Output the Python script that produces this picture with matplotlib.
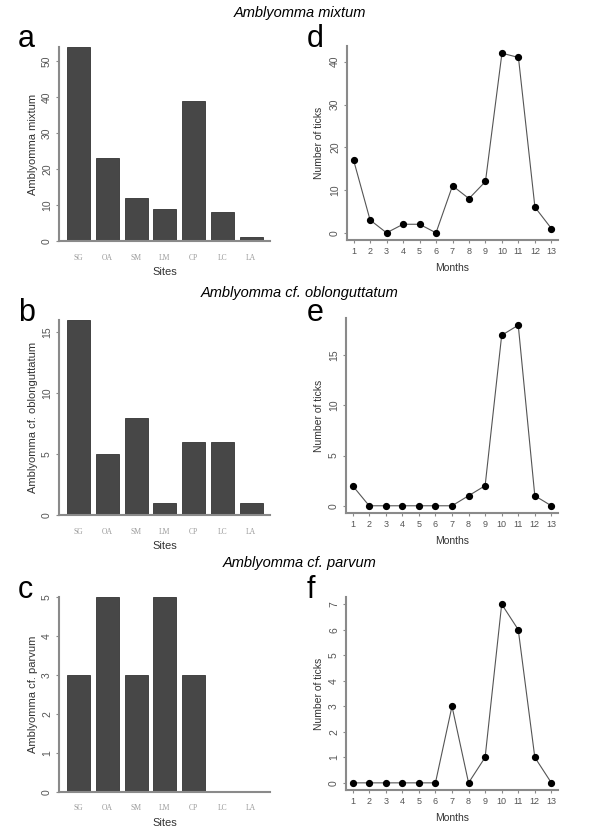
import matplotlib
matplotlib.use("Agg")
import matplotlib.pyplot as plt

plt.rcParams['font.family'] = ['Liberation Sans', 'DejaVu Sans']

sites = ["SG", "OA", "SM", "LM", "CP", "LC", "LA"]
months = list(range(1, 14))

mixtum_sites = [54, 23, 12, 9, 39, 8, 1]
oblong_sites = [16, 5, 8, 1, 6, 6, 1]
parvum_sites = [3, 5, 3, 5, 3, 0, 0]

mixtum_months = [17, 3, 0, 2, 2, 0, 11, 8, 12, 42, 41, 6, 1]
oblong_months = [2, 0, 0, 0, 0, 0, 0, 1, 2, 17, 18, 1, 0]
parvum_months = [0, 0, 0, 0, 0, 0, 3, 0, 1, 7, 6, 1, 0]

titles = ["Amblyomma mixtum", "Amblyomma cf. oblonguttatum", "Amblyomma cf. parvum"]
bar_ylabels = ["Amblyomma mixtum", "Amblyomma cf. oblonguttatum", "Amblyomma cf. parvum"]
bar_yticks = [[0, 10, 20, 30, 40, 50], [0, 5, 10, 15], [0, 1, 2, 3, 4, 5]]
line_yticks = [[0, 10, 20, 30, 40], [0, 5, 10, 15], [0, 1, 2, 3, 4, 5, 6, 7]]
letters_left = ["a", "b", "c"]
letters_right = ["d", "e", "f"]

W, H = 600, 836
fig = plt.figure(figsize=(6, 8.36), dpi=100)

def box(l, r, t, b):
    return [l / W, 1 - b / H, (r - l) / W, (b - t) / H]

bar_boxes = [(59, 270, 47, 241), (59, 270, 320, 515), (59, 270, 597, 792)]
line_boxes = [(347, 558, 46, 240), (346, 558, 318, 513), (346, 558, 597, 790)]
title_y = [13, 293, 563]
letter_y = [47, 321, 598]

spine_col = "#8a8a8a"
tick_col = "#555555"

site_vals = [mixtum_sites, oblong_sites, parvum_sites]
month_vals = [mixtum_months, oblong_months, parvum_months]

for i in range(3):
    # bar chart
    ax = fig.add_axes(box(*bar_boxes[i]))
    vals = site_vals[i]
    ax.bar(range(len(sites)), vals, width=0.8, color="#474747",
           edgecolor="#333333", linewidth=0.6)
    ax.set_xlim(-0.68, 6.65)
    ax.set_ylim(0, max(vals))
    ax.set_xticks(range(len(sites)))
    ax.set_xticklabels(sites, fontsize=5.5, color="#9a9a9a", family="Liberation Serif")
    ax.tick_params(axis="x", length=0, pad=9)
    ax.set_yticks(bar_yticks[i])
    ax.set_yticklabels([str(v) for v in bar_yticks[i]], rotation=90, va="center",
                       fontsize=7.5, color=tick_col)
    ax.tick_params(axis="y", length=2, color=spine_col, width=0.8, pad=3)
    for s in ["top", "right"]:
        ax.spines[s].set_visible(False)
    for s in ["left", "bottom"]:
        ax.spines[s].set_color(spine_col)
        ax.spines[s].set_linewidth(1.5)
    ax.set_xlabel("Sites", fontsize=8, color="#333333", labelpad=4)
    ax.set_ylabel(bar_ylabels[i], fontsize=8, color="#333333", labelpad=3)

    # line chart
    ax2 = fig.add_axes(box(*line_boxes[i]))
    mv = month_vals[i]
    ax2.plot(months, mv, color="#555555", linewidth=0.8, marker="o",
             markersize=4.2, markerfacecolor="black", markeredgecolor="black")
    rng = max(mv) - min(mv)
    ax2.set_ylim(min(mv) - 0.04 * rng, max(mv) + 0.04 * rng)
    ax2.set_xlim(0.6, 13.4)
    ax2.set_xticks(months)
    ax2.set_xticklabels([str(m) for m in months], fontsize=6.5, color=tick_col)
    ax2.tick_params(axis="x", length=2, color=spine_col, width=0.8, pad=3)
    ax2.set_yticks(line_yticks[i])
    ax2.set_yticklabels([str(v) for v in line_yticks[i]], rotation=90, va="center",
                        fontsize=7.5, color=tick_col)
    ax2.tick_params(axis="y", length=2, color=spine_col, width=0.8, pad=3)
    for s in ["top", "right"]:
        ax2.spines[s].set_visible(False)
    for s in ["left", "bottom"]:
        ax2.spines[s].set_color(spine_col)
        ax2.spines[s].set_linewidth(1.5)
    ax2.set_xlabel("Months", fontsize=7.5, color="#333333", labelpad=5)
    ax2.set_ylabel("Number of ticks", fontsize=7.5, color="#333333", labelpad=4)

    fig.text(0.5, 1 - title_y[i] / H, titles[i], ha="center", va="center",
             fontsize=10.5, style="italic", color="black")
    fig.text(18 / W, 1 - letter_y[i] / H, letters_left[i], ha="left", va="baseline",
             fontsize=22, color="black")
    fig.text(307 / W, 1 - letter_y[i] / H, letters_right[i], ha="left", va="baseline",
             fontsize=22, color="black")

fig.savefig("out.png", dpi=100)
